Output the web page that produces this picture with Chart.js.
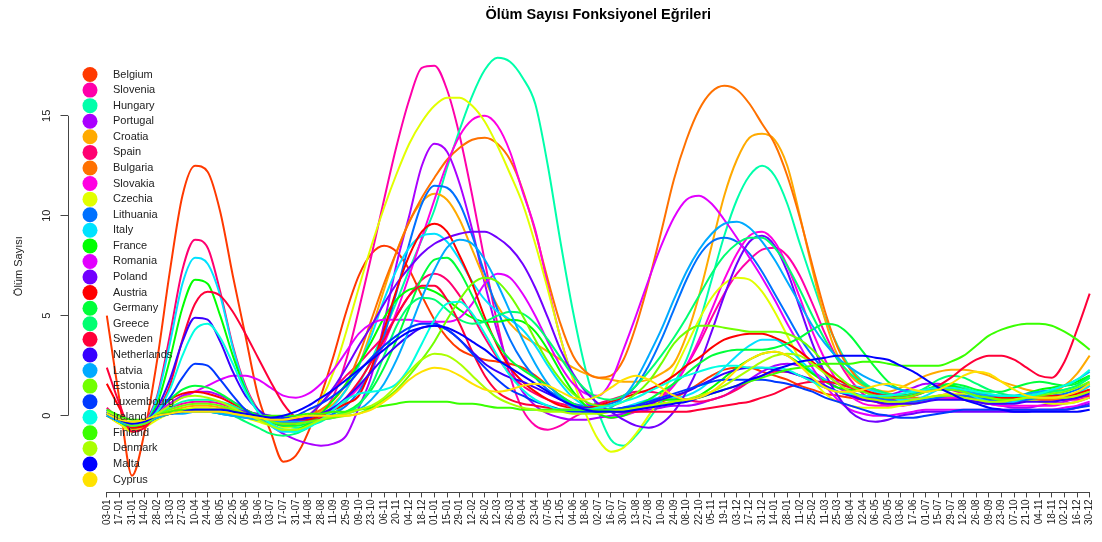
<!DOCTYPE html>
<html><head><meta charset="utf-8">
<script src="https://cdn.jsdelivr.net/npm/chart.js@4.4.0/dist/chart.umd.min.js"></script>
<style>html,body{margin:0;padding:0;background:#fff;overflow:hidden;}#wrap{width:1140px;height:542px;}</style>
</head><body><div id="wrap"><canvas id="c" width="1140" height="542"></canvas></div>
<script>
const tickLabels = ['03-01','17-01','31-01','14-02','28-02','13-03','27-03','10-04','24-04','08-05',
'22-05','05-06','19-06','03-07','17-07','31-07','14-08','28-08','11-09','25-09',
'09-10','23-10','06-11','20-11','04-12','18-12','01-01','15-01','29-01','12-02',
'26-02','12-03','26-03','09-04','23-04','07-05','21-05','04-06','18-06','02-07',
'16-07','30-07','13-08','27-08','10-09','24-09','08-10','22-10','05-11','19-11',
'03-12','17-12','31-12','14-01','28-01','11-02','25-02','11-03','25-03','08-04',
'22-04','06-05','20-05','03-06','17-06','01-07','15-07','29-07','12-08','26-08',
'09-09','23-09','07-10','21-10','04-11','18-11','02-12','16-12','30-12'];
const yTicks = [0, 5, 10, 15];
const countries = ['Belgium','Slovenia','Hungary','Portugal','Croatia','Spain','Bulgaria','Slovakia','Czechia','Lithuania','Italy','France','Romania','Poland','Austria','Germany','Greece','Sweden','Netherlands','Latvia','Estonia','Luxembourg','Ireland','Finland','Denmark','Malta','Cyprus'];
const colors = ['#FF3900','#FF00AA','#00FFAA','#AA00FF','#FFAA00','#FF0071','#FF7100','#FF00E2','#E2FF00','#0071FF','#00E2FF','#00FF00','#E200FF','#7100FF','#FF0000','#00FF39','#00FF71','#FF0039','#3900FF','#00AAFF','#71FF00','#0039FF','#00FFE2','#39FF00','#AAFF00','#0000FF','#FFE200'];

const belgium = [5.0,0.8,-3.0,-0.8,2.8,7.2,11.0,12.5,12.2,10.2, 7.0,4.0,1.0,-0.8,-2.3,-2.0,-0.8,1.0,3.0,5.2, 7.0,8.1,8.5,8.2,7.3,6.0,4.8,3.9,3.3,3.0, 2.8,2.7,2.6,2.4,2.0,1.5,1.0,0.6,0.4,0.3, 0.3,0.3,0.4,0.5,0.7,0.9,1.2,1.6,2.0,2.3, 2.4,2.4,2.2,2.0,1.8,1.5,1.3,1.1,1.0,0.9, 0.8,0.7,0.6,0.6,0.7,0.8,0.9,0.9,0.8,0.7, 0.6,0.6,0.7,0.8,0.9,0.9,1.0,1.1,1.3];
const slovenia = [0.3,-0.2,-0.6,-0.4,0.1,0.4,0.6,0.7,0.7,0.6, 0.4,0.2,0.0,-0.2,-0.3,-0.4,-0.3,0.1,1.0,2.8, 5.3,8.0,10.8,13.5,15.8,17.4,17.5,16.3,14.0,11.0, 7.7,4.6,2.0,0.3,-0.5,-0.7,-0.5,-0.1,0.2,0.3, 0.3,0.3,0.4,0.6,1.0,1.6,2.5,3.6,4.9,6.1, 7.1,7.8,8.3,8.4,8.0,7.0,5.6,4.1,2.8,1.8, 1.1,0.7,0.5,0.5,0.6,0.8,1.0,1.1,1.0,0.9, 0.8,0.8,0.9,1.0,1.0,0.9,0.8,0.8,0.9];
const hungary = [0.2,-0.3,-0.7,-0.5,0.0,0.4,0.7,0.8,0.8,0.7, 0.5,0.2,0.0,-0.3,-0.5,-0.6,-0.5,-0.3,0.1,0.7, 1.6,2.8,4.2,5.7,7.3,8.8,10.3,12.4,14.3,16.0, 17.3,17.9,17.7,16.9,15.6,12.5,8.7,5.2,2.3,0.2, -1.2,-1.5,-1.0,-0.2,0.7,1.6,2.8,4.6,6.8,9.0, 10.8,12.0,12.5,12.0,10.6,8.6,6.7,4.9,3.5,2.4, 1.7,1.3,1.1,1.0,1.0,1.2,1.4,1.5,1.4,1.2, 1.0,0.9,0.9,1.0,1.1,1.2,1.3,1.5,1.9];
const portugal = [0.1,-0.3,-0.5,-0.3,0.1,0.6,1.0,1.2,1.2,1.0, 0.7,0.3,-0.1,-0.5,-0.9,-1.2,-1.4,-1.5,-1.4,-1.0, 0.4,2.0,4.6,7.6,10.0,12.5,13.6,13.2,11.6,9.3, 6.6,4.2,2.4,1.2,0.5,0.1,-0.1,-0.2,-0.2,-0.1, 0.0,0.1,0.2,0.3,0.4,0.5,0.5,0.6,0.8,1.0, 1.4,1.8,2.2,2.5,2.6,2.5,2.2,1.8,1.4,1.1, 0.9,0.9,1.0,1.2,1.4,1.6,1.6,1.4,1.1,0.8, 0.6,0.5,0.4,0.4,0.5,0.6,0.7,0.9,1.2];
const croatia = [0.0,-0.4,-0.7,-0.5,-0.1,0.2,0.4,0.5,0.5,0.4, 0.3,0.1,-0.1,-0.3,-0.4,-0.4,-0.2,0.2,0.6,1.3, 2.5,4.3,6.3,8.2,9.7,10.7,11.1,10.8,9.8,8.3, 6.8,5.5,4.6,4.0,3.6,3.2,2.8,2.4,2.1,1.9, 1.8,1.7,1.7,1.8,2.1,2.6,4.0,6.0,8.5,11.0, 12.8,13.9,14.1,13.8,12.5,10.0,7.3,4.8,3.0,2.0, 1.5,1.3,1.2,1.4,1.7,2.0,2.2,2.3,2.3,2.2, 2.0,1.7,1.5,1.3,1.2,1.2,1.5,2.1,3.0];
const spain = [0.4,-0.2,-0.6,-0.3,1.0,4.0,7.3,8.8,8.4,6.2, 3.5,1.5,0.3,-0.3,-0.5,-0.4,0.0,0.6,1.3,2.0, 2.6,3.3,4.0,5.0,6.0,6.8,7.1,6.8,6.0,5.0, 3.9,2.9,2.1,1.5,1.1,0.8,0.6,0.5,0.5,0.6, 0.8,1.0,1.2,1.2,1.1,0.9,0.8,0.7,0.8,1.0, 1.3,1.7,2.0,2.2,2.2,2.0,1.7,1.4,1.2,1.0, 0.9,0.8,0.8,0.9,1.1,1.3,1.4,1.3,1.1,0.9, 0.8,0.7,0.7,0.8,0.8,0.8,0.8,0.9,1.0];
const bulgaria = [0.0,-0.3,-0.5,-0.4,-0.1,0.1,0.2,0.3,0.3,0.3, 0.2,0.1,0.0,-0.1,-0.2,-0.2,0.0,0.3,0.8,1.6, 3.0,4.8,6.6,8.2,9.7,10.9,11.9,12.8,13.4,13.8, 13.9,13.6,12.8,11.3,9.2,6.8,4.6,3.0,2.2,1.9, 2.0,2.8,4.5,6.7,9.2,11.8,13.8,15.3,16.2,16.5, 16.3,15.6,14.6,13.6,12.0,9.9,7.5,5.2,3.4,2.3, 1.6,1.2,1.0,0.9,0.9,0.9,1.0,1.0,1.0,0.9, 0.9,0.8,0.8,0.8,0.8,0.8,0.9,1.1,1.5];
const slovakia = [0.1,-0.2,-0.4,-0.3,0.0,0.1,0.2,0.2,0.2,0.2, 0.1,0.1,0.0,-0.1,-0.2,-0.2,-0.1,0.1,0.4,0.8, 1.4,2.3,3.6,5.2,7.0,8.9,10.8,12.6,14.0,14.8, 15.0,14.5,13.2,11.2,9.3,6.5,3.9,1.9,0.7,0.1, -0.1,0.0,0.2,0.5,0.9,1.5,2.5,3.8,5.3,6.8, 8.1,9.0,9.2,8.7,7.5,5.9,4.2,2.8,1.7,1.0, 0.6,0.5,0.5,0.6,0.7,0.8,0.9,0.9,0.8,0.7, 0.6,0.5,0.5,0.5,0.5,0.5,0.6,0.7,0.9];
const czechia = [0.0,-0.4,-0.8,-0.6,-0.2,0.1,0.3,0.4,0.4,0.3, 0.1,-0.1,-0.3,-0.5,-0.6,-0.5,-0.1,0.8,2.2,4.2, 6.4,8.5,10.4,12.1,13.6,14.7,15.5,15.9,15.9,15.5, 14.7,13.5,12.1,10.6,8.6,6.3,3.9,1.8,0.1,-1.2, -1.8,-1.6,-0.9,0.0,1.0,2.2,3.5,4.8,5.9,6.6, 6.9,6.8,6.2,5.2,4.0,2.8,1.8,1.1,0.7,0.5, 0.4,0.4,0.4,0.5,0.6,0.8,1.0,1.1,1.1,1.0, 0.9,0.8,0.8,0.8,0.7,0.6,0.6,0.7,0.9];
const lithuania = [0.0,-0.3,-0.5,-0.4,-0.1,0.1,0.2,0.2,0.2,0.1, 0.0,-0.1,-0.2,-0.3,-0.3,-0.3,-0.2,-0.1,0.1,0.5, 1.2,2.3,4.0,6.2,8.6,10.6,11.5,11.4,10.6,9.0, 7.1,5.3,3.8,2.7,1.9,1.3,0.9,0.6,0.5,0.5, 0.6,0.9,1.5,2.5,3.8,5.3,6.8,8.0,8.7,8.9, 8.7,8.1,7.2,6.1,5.0,3.9,3.0,2.2,1.6,1.2, 1.0,0.9,0.8,0.7,0.7,0.8,0.9,1.0,1.0,0.9, 0.8,0.7,0.7,0.8,0.9,1.0,1.1,1.3,1.6];
const italy = [0.2,-0.3,-0.6,-0.4,0.9,3.6,6.6,7.9,7.6,6.0, 3.4,1.4,0.2,-0.5,-0.8,-0.8,-0.5,0.0,0.5,1.3, 2.5,4.0,5.8,7.3,8.4,9.0,9.1,8.7,7.8,6.7, 5.8,5.2,4.8,4.3,3.5,2.5,1.6,0.9,0.5,0.3, 0.3,0.4,0.6,0.8,0.9,0.9,1.0,1.3,1.8,2.4, 3.0,3.5,3.8,3.8,3.4,2.8,2.2,1.8,1.6,1.5, 1.4,1.2,1.0,0.8,0.8,1.0,1.3,1.4,1.2,0.9, 0.7,0.6,0.7,0.9,1.0,1.0,1.0,1.1,1.5];
const france = [0.1,-0.3,-0.6,-0.4,0.6,2.8,5.4,6.8,6.6,5.0, 3.0,1.3,0.2,-0.4,-0.7,-0.7,-0.4,0.1,0.8,1.6, 2.6,3.7,4.9,5.8,6.3,6.4,6.2,5.8,5.3,4.9, 4.7,4.7,4.8,4.7,4.2,3.3,2.2,1.2,0.5,0.1, -0.1,0.0,0.3,0.6,0.8,0.8,0.8,1.0,1.4,1.9, 2.4,2.8,3.1,3.2,3.0,2.6,2.1,1.7,1.4,1.3, 1.2,1.1,1.0,1.0,1.1,1.3,1.5,1.5,1.3,1.1, 0.9,0.8,0.9,1.1,1.3,1.4,1.5,1.7,2.0];
const romania = [0.2,-0.2,-0.5,-0.3,0.2,0.6,0.9,1.2,1.5,1.8, 2.0,2.0,1.8,1.4,1.0,0.9,1.1,1.6,2.3,3.2, 4.1,4.6,4.8,4.8,4.8,4.7,4.7,4.7,4.9,5.6, 6.6,7.1,6.9,6.1,5.0,3.7,2.5,1.6,1.1,1.0, 1.7,3.3,5.0,6.8,8.5,9.9,10.8,11.0,10.6,9.8, 8.9,7.9,6.9,5.8,4.6,3.5,2.4,1.5,0.8,0.3, 0.1,0.0,0.0,0.1,0.2,0.3,0.3,0.3,0.3,0.3, 0.3,0.3,0.3,0.3,0.3,0.3,0.4,0.5,0.7];
const poland = [0.0,-0.3,-0.5,-0.4,-0.1,0.1,0.2,0.3,0.3,0.3, 0.3,0.2,0.1,0.0,-0.2,-0.3,0.0,0.6,1.4,2.4, 3.5,4.5,5.6,6.6,7.4,8.1,8.6,8.9,9.1,9.2, 9.2,8.9,8.4,7.6,6.4,4.9,3.3,2.1,1.2,0.6, 0.2,-0.2,-0.5,-0.6,-0.4,0.2,1.2,2.5,4.2,6.0, 7.6,8.7,9.0,8.5,7.2,5.4,3.6,2.1,1.0,0.2, -0.2,-0.3,-0.2,0.0,0.1,0.2,0.2,0.2,0.2,0.2, 0.2,0.2,0.2,0.2,0.3,0.3,0.3,0.4,0.6];
const austria = [1.6,0.4,-0.6,-0.5,0.2,0.8,1.1,1.2,1.1,0.9, 0.6,0.3,0.0,-0.2,-0.3,-0.3,-0.2,0.0,0.3,0.6, 1.0,2.4,4.3,6.3,8.0,9.2,9.6,9.2,8.0,6.6, 4.9,3.5,2.4,1.7,1.2,0.8,0.5,0.4,0.4,0.5, 0.7,0.9,1.1,1.3,1.6,2.0,2.5,2.9,3.4,3.8, 4.0,4.1,4.1,3.9,3.6,3.2,2.7,2.2,1.8,1.5, 1.3,1.1,1.0,1.0,1.1,1.3,1.4,1.4,1.3,1.1, 1.0,0.9,0.9,0.9,1.0,1.0,1.0,1.1,1.3];
const germany = [0.1,-0.3,-0.5,-0.3,0.2,0.8,1.3,1.5,1.4,1.1, 0.7,0.3,0.0,-0.3,-0.5,-0.5,-0.4,-0.2,0.0,0.2, 0.6,1.3,2.4,3.8,5.4,6.9,7.8,7.9,7.2,6.0, 4.7,3.6,2.8,2.3,1.9,1.5,1.0,0.6,0.3,0.2, 0.2,0.3,0.5,0.8,1.2,1.6,2.1,2.6,3.0,3.2, 3.3,3.3,3.3,3.4,3.6,3.9,4.3,4.6,4.5,4.0, 3.2,2.4,1.7,1.3,1.2,1.3,1.5,1.6,1.5,1.3, 1.2,1.2,1.4,1.6,1.7,1.6,1.5,1.6,2.0];
const greece = [0.0,-0.3,-0.5,-0.4,-0.1,0.1,0.2,0.2,0.2,0.1, 0.0,-0.3,-0.6,-0.9,-1.0,-0.9,-0.6,-0.2,0.0,0.2, 0.5,1.5,3.0,4.5,5.5,5.9,5.8,5.3,4.8,4.6, 4.7,5.0,5.2,5.1,4.6,3.8,2.9,2.0,1.3,0.9, 0.8,1.0,1.5,2.2,3.0,3.9,4.9,6.0,7.1,8.0, 8.6,8.9,8.9,8.4,7.5,6.3,5.0,3.8,2.8,2.1, 1.6,1.3,1.1,1.0,1.1,1.4,1.8,2.0,1.9,1.6, 1.3,1.1,1.0,1.0,1.1,1.2,1.3,1.5,1.9];
const sweden = [2.4,0.6,-0.8,-0.6,0.2,1.5,3.8,5.6,6.2,6.0, 5.2,4.1,2.9,1.7,0.6,-0.1,-0.3,-0.1,0.3,0.9, 1.7,2.7,3.8,5.0,6.0,6.5,6.5,5.8,4.6,3.2, 2.0,1.2,0.8,0.6,0.5,0.4,0.3,0.3,0.2,0.2, 0.2,0.2,0.2,0.2,0.2,0.2,0.2,0.3,0.4,0.5, 0.6,0.7,0.9,1.1,1.4,1.6,1.7,1.7,1.6,1.4, 1.2,1.0,0.9,0.9,1.0,1.2,1.5,1.9,2.4,2.8, 3.0,3.0,2.8,2.4,2.0,1.9,2.7,4.3,6.1];
const netherlands = [0.3,-0.1,-0.4,-0.3,0.4,1.8,3.7,4.9,4.8,3.7, 2.2,1.0,0.3,-0.1,-0.2,-0.2,-0.1,0.1,0.4,0.9, 1.5,2.2,2.9,3.5,4.0,4.4,4.5,4.3,3.8,3.2, 2.6,2.2,1.9,1.7,1.4,1.1,0.8,0.5,0.4,0.3, 0.3,0.4,0.5,0.6,0.8,1.0,1.2,1.5,1.8,2.1, 2.3,2.4,2.4,2.3,2.2,2.0,1.8,1.5,1.2,1.0, 0.8,0.7,0.6,0.6,0.6,0.7,0.8,0.8,0.8,0.7, 0.6,0.6,0.6,0.7,0.7,0.7,0.8,0.9,1.1];
const latvia = [0.0,-0.3,-0.5,-0.4,-0.1,0.1,0.1,0.2,0.2,0.1, 0.0,-0.1,-0.2,-0.3,-0.3,-0.3,-0.3,-0.2,-0.1,0.1, 0.3,0.8,1.6,2.8,4.3,5.9,7.3,8.4,8.8,8.6, 7.8,6.6,5.2,3.8,2.6,1.6,0.9,0.4,0.2,0.2, 0.4,0.9,1.8,3.0,4.3,5.8,7.2,8.3,9.1,9.6, 9.7,9.4,8.7,7.8,6.7,5.6,4.5,3.6,2.9,2.4, 2.0,1.7,1.5,1.3,1.2,1.2,1.3,1.3,1.2,1.1, 1.0,1.0,1.0,1.1,1.2,1.3,1.5,1.8,2.2];
const estonia = [0.1,-0.2,-0.5,-0.4,0.0,0.3,0.5,0.6,0.6,0.5, 0.3,0.1,-0.1,-0.3,-0.4,-0.4,-0.3,-0.2,-0.1,0.0, 0.1,0.4,0.8,1.3,2.0,2.8,3.7,4.8,5.8,6.6, 6.9,6.7,6.0,5.0,3.8,2.7,1.8,1.1,0.7,0.5, 0.5,0.7,1.1,1.7,2.6,3.6,4.2,4.5,4.5,4.4, 4.3,4.2,4.2,4.2,4.1,3.8,3.3,2.6,2.0,1.5, 1.2,1.0,0.9,0.9,1.0,1.2,1.3,1.3,1.2,1.0, 0.9,0.8,0.8,0.9,1.0,1.1,1.2,1.4,1.7];
const luxembourg = [0.2,-0.2,-0.4,-0.3,0.2,0.9,1.9,2.6,2.5,1.8, 1.0,0.3,-0.1,-0.2,-0.1,0.0,0.3,0.6,1.0,1.5, 2.2,2.9,3.5,4.0,4.4,4.6,4.6,4.3,3.8,3.1, 2.4,1.8,1.3,1.0,0.7,0.5,0.3,0.2,0.2,0.2, 0.3,0.4,0.5,0.7,0.9,1.1,1.3,1.5,1.7,1.8, 1.8,1.8,1.8,1.7,1.6,1.4,1.2,0.9,0.7,0.5, 0.3,0.1,0.0,-0.1,-0.1,0.0,0.1,0.2,0.3,0.3, 0.3,0.3,0.3,0.3,0.3,0.3,0.3,0.4,0.5];
const ireland = [0.3,-0.1,-0.4,-0.3,0.2,1.3,3.0,4.3,4.6,3.9, 2.6,1.2,0.2,-0.4,-0.7,-0.8,-0.6,-0.2,0.3,0.8, 1.1,1.2,1.3,1.6,2.4,3.6,4.8,5.6,5.7,5.1, 4.1,3.0,2.0,1.3,0.8,0.5,0.3,0.3,0.3,0.4, 0.5,0.7,0.9,1.2,1.5,1.8,2.0,2.2,2.4,2.5, 2.5,2.4,2.4,2.4,2.3,2.0,1.7,1.4,1.2,1.1, 1.0,1.0,1.0,1.1,1.2,1.3,1.4,1.4,1.3,1.2, 1.1,1.0,1.0,1.0,1.1,1.3,1.5,1.8,2.3];
const finland = [0.3,0.0,-0.2,-0.2,0.0,0.2,0.3,0.3,0.3,0.3, 0.2,0.1,0.0,0.0,0.0,0.0,0.1,0.1,0.2,0.2, 0.3,0.4,0.5,0.6,0.7,0.7,0.7,0.7,0.6,0.6, 0.5,0.4,0.4,0.3,0.3,0.3,0.3,0.3,0.3,0.3, 0.3,0.3,0.4,0.5,0.6,0.7,0.8,0.9,1.1,1.3, 1.5,1.7,1.9,2.1,2.3,2.4,2.5,2.6,2.6,2.6, 2.7,2.7,2.6,2.5,2.5,2.5,2.5,2.7,3.0,3.5, 4.0,4.3,4.5,4.6,4.6,4.5,4.2,3.8,3.3];
const denmark = [0.2,-0.1,-0.4,-0.3,0.1,0.5,0.9,1.0,0.9,0.7, 0.4,0.1,-0.2,-0.5,-0.7,-0.7,-0.5,-0.2,0.0,0.1, 0.3,0.5,0.9,1.5,2.2,2.8,3.1,3.0,2.6,2.0, 1.4,0.9,0.6,0.4,0.3,0.2,0.2,0.1,0.1,0.1, 0.2,0.3,0.4,0.5,0.6,0.7,0.8,1.0,1.2,1.5, 1.9,2.3,2.7,3.0,3.1,3.0,2.6,2.1,1.6,1.2, 0.9,0.8,0.7,0.7,0.8,0.9,1.0,1.0,0.9,0.8, 0.7,0.7,0.8,0.9,0.9,0.9,0.9,1.0,1.2];
const malta = [0.1,-0.2,-0.4,-0.3,0.0,0.1,0.2,0.3,0.3,0.3, 0.2,0.1,0.0,-0.1,0.0,0.2,0.5,0.9,1.3,1.8, 2.3,2.8,3.3,3.8,4.2,4.4,4.5,4.4,4.1,3.7, 3.3,2.8,2.4,2.0,1.6,1.2,0.8,0.5,0.3,0.2, 0.2,0.2,0.3,0.4,0.5,0.6,0.7,0.9,1.1,1.3, 1.5,1.8,2.0,2.3,2.5,2.7,2.8,2.9,3.0,3.0, 3.0,2.9,2.8,2.5,2.2,1.8,1.4,1.1,0.8,0.6, 0.4,0.3,0.2,0.2,0.2,0.2,0.2,0.2,0.3];
const cyprus = [0.1,-0.2,-0.3,-0.2,0.0,0.1,0.2,0.2,0.2,0.2, 0.1,0.0,-0.1,-0.2,-0.2,-0.1,0.0,0.0,0.0,0.0, 0.1,0.3,0.7,1.2,1.8,2.2,2.4,2.3,2.0,1.6, 1.3,1.2,1.3,1.5,1.6,1.5,1.2,0.9,0.8,1.0, 1.4,1.8,2.0,1.8,1.4,1.0,0.8,0.9,1.2,1.7, 2.3,2.8,3.1,3.2,3.0,2.5,1.9,1.4,1.2,1.2, 1.3,1.5,1.6,1.5,1.3,1.2,1.3,1.6,2.0,2.2, 2.1,1.7,1.3,1.0,0.9,0.9,1.0,1.2,1.6];

const seriesValues = [belgium,slovenia,hungary,portugal,croatia,spain,bulgaria,slovakia,czechia,lithuania,italy,france,romania,poland,austria,germany,greece,sweden,netherlands,latvia,estonia,luxembourg,ireland,finland,denmark,malta,cyprus];

const FONT = '"Liberation Sans", Arial, Helvetica, sans-serif';
Chart.defaults.font.family = FONT;

const rStyle = {
  id: 'rStyle',
  afterDraw(chart) {
    const ctx = chart.ctx, xs = chart.scales.x, ys = chart.scales.y, ca = chart.chartArea;
    ctx.save();
    ctx.strokeStyle = '#444'; ctx.lineWidth = 1;
    const yb = Math.round(ca.bottom) + 0.5;
    ctx.beginPath(); ctx.moveTo(xs.getPixelForValue(0), yb); ctx.lineTo(xs.getPixelForValue(tickLabels.length - 1), yb); ctx.stroke();
    const xl = Math.round(ca.left) + 0.5;
    ctx.beginPath(); ctx.moveTo(xl, ys.getPixelForValue(yTicks[0])); ctx.lineTo(xl, ys.getPixelForValue(yTicks[yTicks.length - 1])); ctx.stroke();
    ctx.font = '11px ' + FONT; ctx.textBaseline = 'middle'; ctx.textAlign = 'left';
    chart.data.datasets.forEach((ds, i) => {
      const cy = 74.5 + i * 15.58;
      ctx.fillStyle = ds.borderColor;
      ctx.beginPath(); ctx.arc(90, cy, 7.5, 0, Math.PI * 2); ctx.fill();
      ctx.fillStyle = '#222';
      ctx.fillText(ds.label, 113, cy);
    });
    ctx.restore();
  }
};

const datasets = countries.map((name, i) => ({
  label: name,
  data: seriesValues[i].map((v, k) => ({x: k, y: v})),
  borderColor: colors[i],
  backgroundColor: colors[i],
  borderWidth: 2,
  pointRadius: 0,
  fill: false,
  tension: 0.4,
  cubicInterpolationMode: 'monotone',
  order: -i
}));

new Chart(document.getElementById('c'), {
  type: 'line',
  data: { datasets },
  options: {
    responsive: false, animation: false, devicePixelRatio: 1,
    layout: { padding: { left: 12.4, right: 11, top: 0, bottom: 15 } },
    plugins: {
      legend: { display: false },
      tooltip: { enabled: false },
      title: { display: true, text: 'Ölüm Sayısı Fonksiyonel Eğrileri', fullSize: false, color: '#000',
        font: { size: 14.5, weight: 'bold', family: FONT }, padding: { top: 6, bottom: 16.6 } }
    },
    scales: {
      x: {
        type: 'linear', min: -3.12, max: 81.12,
        afterBuildTicks: s => { s.ticks = tickLabels.map((_, i) => ({ value: i })); },
        ticks: { autoSkip: false, minRotation: 90, maxRotation: 90, padding: 2, color: '#222',
          font: { size: 10, family: FONT }, callback: v => tickLabels[v] !== undefined ? tickLabels[v] : '' },
        grid: { display: true, drawOnChartArea: false, drawTicks: true, tickLength: 5, color: '#444', lineWidth: 1 },
        border: { display: false }
      },
      y: {
        type: 'linear', min: -3.84, max: 18.79,
        afterBuildTicks: s => { s.ticks = yTicks.map(v => ({ value: v })); },
        ticks: { minRotation: 90, maxRotation: 90, crossAlign: 'center', padding: 7, color: '#222',
          font: { size: 11, family: FONT }, callback: v => String(v) },
        grid: { display: true, drawOnChartArea: false, drawTicks: true, tickLength: 7, color: '#444', lineWidth: 1 },
        border: { display: false },
        title: { display: true, text: 'Ölüm Sayısı', color: '#222', font: { size: 11, family: FONT }, padding: { top: 0, bottom: 7.7 } }
      }
    }
  },
  plugins: [rStyle]
});
</script>
</body></html>
